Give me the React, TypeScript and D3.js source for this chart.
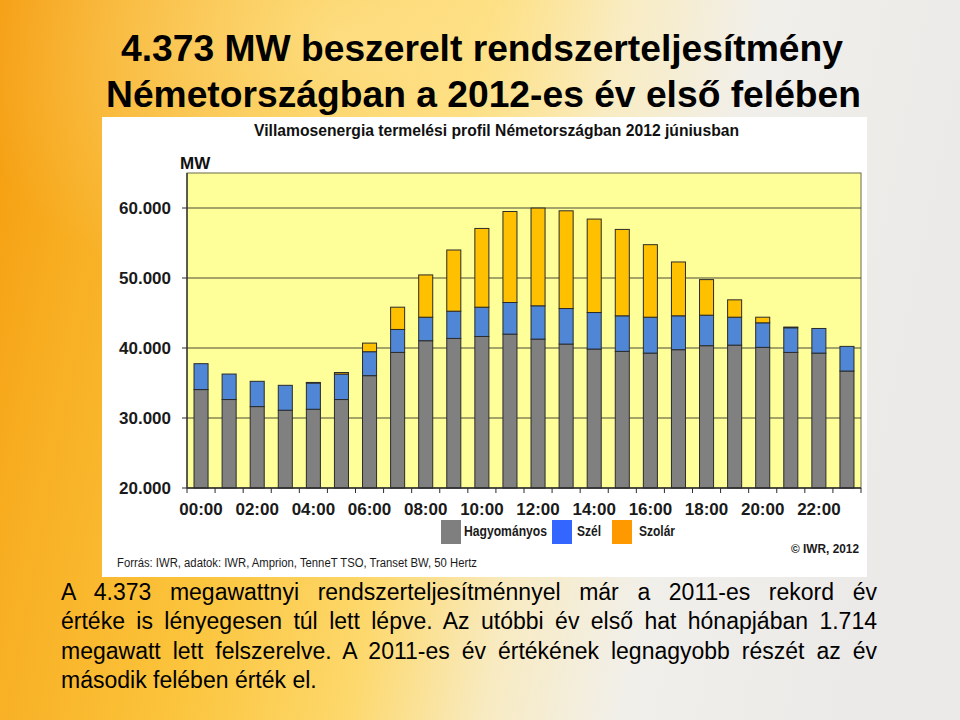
import React, { useEffect, useRef } from 'react';
import * as d3 from 'd3';

// ---- data ----
const HOURS = [
  '00:00', '01:00', '02:00', '03:00', '04:00', '05:00', '06:00', '07:00',
  '08:00', '09:00', '10:00', '11:00', '12:00', '13:00', '14:00', '15:00',
  '16:00', '17:00', '18:00', '19:00', '20:00', '21:00', '22:00', '23:00',
];
const HAGYOMANYOS = [
  34060, 32640, 31630, 31110, 31250, 32640, 36050, 39370,
  41040, 41370, 41650, 41980, 41270, 40560, 39850, 39520,
  39270, 39760, 40330, 40410, 40090, 39370, 39270, 36710,
];
const SZEL = [
  3700, 3640, 3610, 3560, 3750, 3640, 3420, 3280,
  3360, 3890, 4180, 4520, 4760, 5080, 5220, 5080,
  5130, 4840, 4360, 3990, 3510, 3520, 3520, 3520,
];
const SZOLAR = [
  0, 0, 0, 0, 80, 220, 1230, 3180,
  6040, 8740, 11250, 13000, 13960, 13960, 13350, 12340,
  10360, 7690, 5080, 2480, 800, 100, 0, 0,
];
const SERIES_KEYS = ['hagyomanyos', 'szel', 'szolar'];
const SERIES_NAMES = ['Hagyományos', 'Szél', 'Szolár'];
const Y_TICKS = [20000, 30000, 40000, 50000, 60000];
const X_TICK_LABELS = ['00:00', '02:00', '04:00', '06:00', '08:00', '10:00', '12:00', '14:00', '16:00', '18:00', '20:00', '22:00'];

const SLIDE_TITLE = ['4.373 MW beszerelt rendszerteljesítmény', 'Németországban a 2012-es év első felében'];
const CHART_TITLE = 'Villamosenergia termelési profil Németországban 2012 júniusban';
const BODY_LINES = [
  'A 4.373 megawattnyi rendszerteljesítménnyel már a 2011-es rekord év',
  'értéke is lényegesen túl lett lépve. Az utóbbi év első hat hónapjában 1.714',
  'megawatt lett felszerelve. A 2011-es év értékének legnagyobb részét az év',
  'második felében érték el.',
];
const SOURCE = 'Forrás: IWR, adatok: IWR, Amprion, TenneT TSO, Transet BW, 50 Hertz';
const COPYRIGHT = '© IWR, 2012';

// ---- styles ----
const BAR_COLORS = ['#808080', '#4f87d6', '#ffc000'];
const LEGEND_COLORS = ['#7f7f7f', '#3366ff', '#ff9900'];
const FONT = '"Liberation Sans", Arial, sans-serif';

const W = 960;
const H = 720;
const PLOT = { left: 187, right: 861, top: 173, bottom: 488 };

const fmt = d3.formatLocale({ decimal: ',', thousands: '.', grouping: [3], currency: ['', ''] }).format(',');

export default function App() {
  const bodyRefs = useRef<(SVGTextElement | null)[]>([]);

  useEffect(() => {
    document.body.style.margin = '0';
    const target = 816;
    bodyRefs.current.forEach((el, i) => {
      if (!el || i === BODY_LINES.length - 1) return;
      el.setAttribute('word-spacing', '0');
      const len = el.getComputedTextLength();
      const spaces = (BODY_LINES[i].match(/ /g) || []).length;
      if (spaces > 0) el.setAttribute('word-spacing', String((target - len) / spaces));
    });
  }, []);

  const table = HOURS.map((h, i) => ({
    hour: h,
    hagyomanyos: HAGYOMANYOS[i],
    szel: SZEL[i],
    szolar: SZOLAR[i],
  }));
  const stacked = d3.stack<any>().keys(SERIES_KEYS)(table);

  const x = d3.scaleBand<string>()
    .domain(HOURS)
    .range([PLOT.left, PLOT.right])
    .paddingInner(0.5)
    .paddingOuter(0.25);
  const y = d3.scaleLinear().domain([20000, 65000]).range([PLOT.bottom, PLOT.top]).clamp(true);
  const step = x.step();

  const legendSquares = [441, 552, 612];
  const legendText = [464, 577, 639];
  const legendWidths = [83, 24, 36];

  return (
    <svg width={W} height={H} style={{ position: 'absolute', left: 0, top: 0, display: 'block' }}>
      <defs>
        <linearGradient id="bg" x1="0" y1="0" x2="1" y2="0.15">
          <stop offset="0" stopColor="#f59c0e" />
          <stop offset="0.12" stopColor="#f8ae22" />
          <stop offset="0.32" stopColor="#fbc43c" />
          <stop offset="0.5" stopColor="#fdd86c" />
          <stop offset="0.64" stopColor="#f8ebc2" />
          <stop offset="0.78" stopColor="#f1efea" />
          <stop offset="1" stopColor="#ebeae8" />
        </linearGradient>
        <radialGradient id="glow" cx="0.35" cy="0.05" r="0.4">
          <stop offset="0" stopColor="#fff6c8" stopOpacity="0.45" />
          <stop offset="1" stopColor="#fff6c8" stopOpacity="0" />
        </radialGradient>
      </defs>
      <rect x={0} y={0} width={W} height={H} fill="url(#bg)" />
      <rect x={0} y={0} width={W} height={H} fill="url(#glow)" />

      {/* slide title */}
      {SLIDE_TITLE.map((t, i) => (
        <text
          key={t}
          x={i === 0 ? 482 : 483.5}
          y={i === 0 ? 61 : 107}
          textAnchor="middle"
          fontFamily={FONT}
          fontWeight="bold"
          fontSize={37}
          fill="#000"
          textLength={i === 0 ? 722 : 755}
          lengthAdjust="spacingAndGlyphs"
        >
          {t}
        </text>
      ))}

      {/* chart panel */}
      <rect x={102} y={117} width={765} height={460} fill="#ffffff" />
      <text x={496.5} y={136} textAnchor="middle" fontFamily={FONT} fontWeight="bold" fontSize={16.5}
        fill="#111" textLength={485} lengthAdjust="spacingAndGlyphs">{CHART_TITLE}</text>
      <text x={180} y={169} fontFamily={FONT} fontWeight="bold" fontSize={17} fill="#111">MW</text>

      {/* plot area */}
      <rect x={PLOT.left} y={PLOT.top} width={PLOT.right - PLOT.left} height={PLOT.bottom - PLOT.top}
        fill="#ffff99" stroke="#6b6b4a" strokeWidth={1} />
      {Y_TICKS.filter((t) => t > 20000).map((t) => (
        <line key={t} x1={PLOT.left} x2={PLOT.right} y1={y(t)} y2={y(t)} stroke="#4a4a3a" strokeWidth={1.2} />
      ))}

      {/* bars */}
      {stacked.map((layer, si) => (
        <g key={layer.key}>
          {layer.map((d, i) => {
            const y0 = y(d[0]);
            const y1 = y(d[1]);
            const h = y0 - y1;
            if (h <= 0.01) return null;
            return (
              <rect
                key={i}
                x={x(HOURS[i])}
                y={y1}
                width={x.bandwidth()}
                height={h}
                fill={BAR_COLORS[si]}
                stroke="#2b2b2b"
                strokeWidth={1}
              />
            );
          })}
        </g>
      ))}

      {/* axes */}
      <line x1={PLOT.left} x2={PLOT.left} y1={PLOT.top} y2={PLOT.bottom} stroke="#2b2b2b" strokeWidth={1.3} />
      <line x1={PLOT.left} x2={PLOT.right} y1={PLOT.bottom} y2={PLOT.bottom} stroke="#2b2b2b" strokeWidth={1.3} />
      {Y_TICKS.map((t) => (
        <g key={t}>
          <line x1={PLOT.left - 5} x2={PLOT.left} y1={y(t)} y2={y(t)} stroke="#2b2b2b" />
          <text x={171} y={y(t) + 6} textAnchor="end" fontFamily={FONT} fontWeight="bold" fontSize={17}
            fill="#1a1a1a">{fmt(t)}</text>
        </g>
      ))}
      {d3.range(HOURS.length + 1).map((i) => {
        const xx = PLOT.left + i * step;
        return <line key={i} x1={xx} x2={xx} y1={PLOT.bottom} y2={PLOT.bottom + 5} stroke="#2b2b2b" />;
      })}
      {X_TICK_LABELS.map((lbl) => (
        <text key={lbl} x={(x(lbl) as number) + x.bandwidth() / 2} y={515} textAnchor="middle"
          fontFamily={FONT} fontWeight="bold" fontSize={17} fill="#1a1a1a">{lbl}</text>
      ))}

      {/* legend */}
      {SERIES_NAMES.map((name, i) => (
        <g key={name}>
          <rect x={legendSquares[i]} y={520} width={20} height={24} fill={LEGEND_COLORS[i]} />
          <text x={legendText[i]} y={536} fontFamily={FONT} fontWeight="bold" fontSize={14} fill="#1a1a1a"
            textLength={legendWidths[i]} lengthAdjust="spacingAndGlyphs">{name}</text>
        </g>
      ))}
      <text x={859} y={553} textAnchor="end" fontFamily={FONT} fontWeight="bold" fontSize={13} fill="#1a1a1a"
        textLength={68} lengthAdjust="spacingAndGlyphs">{COPYRIGHT}</text>
      <text x={117} y={567} fontFamily={FONT} fontSize={12} fill="#1a1a1a" textLength={360}
        lengthAdjust="spacingAndGlyphs">{SOURCE}</text>

      {/* body text */}
      {BODY_LINES.map((line, i) => (
        <text
          key={i}
          ref={(el) => { bodyRefs.current[i] = el; }}
          x={61}
          y={600 + i * 29.3}
          fontFamily={FONT}
          fontSize={23}
          fill="#000"
        >
          {line}
        </text>
      ))}
    </svg>
  );
}
